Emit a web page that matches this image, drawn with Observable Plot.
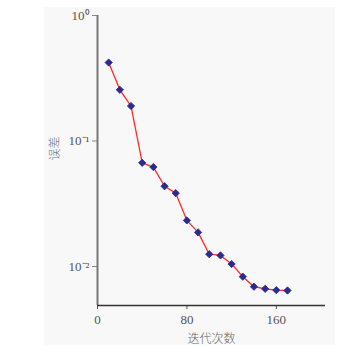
<!DOCTYPE html>
<html><head><meta charset="utf-8">
<script src="https://cdn.jsdelivr.net/npm/d3@7"></script>
<script src="https://cdn.jsdelivr.net/npm/@observablehq/plot@0.6"></script>
<style>
html,body{margin:0;padding:0;background:#fff;}
#chart{position:absolute;left:44px;top:7px;width:291px;height:338px;background:#f8f8f8;}
svg{overflow:visible;}
</style></head>
<body><div id="chart"></div>
<script>
const iterations = [10,20,30,40,50,60,70,80,90,100,110,120,130,140,150,160,170];
const errors = [0.422,0.256,0.19,0.067,0.062,0.0436,0.0384,0.0233,0.0187,0.01253,0.01225,0.01046,0.0083,0.0069,0.00664,0.00648,0.00644];
const xTicks = [0,80,160];
const yTicks = [1,0.1,0.01];
const yTickLabels = ["10\u2070","10\u207B\u00B9","10\u207B\u00B2"];
const xLabel = "迭代次数";
const yLabel = "误差";

const data = iterations.map((x,i)=>({x, y: errors[i]}));
const yMin = 0.00489;
const font = "'Liberation Serif','Noto Sans CJK SC',serif";

const chart = Plot.plot({
  width: 291, height: 338,
  marginLeft: 53, marginTop: 8, marginBottom: 40, marginRight: 10,
  style: {background: "transparent", fontFamily: font, fontSize: "13px", color: "#555"},
  x: {domain: [0, 204]},
  y: {type: "log", domain: [yMin, 1]},
  marks: [
    Plot.axisX({ticks: xTicks, tickSize: 4, tickPadding: 5, stroke: "#555", fill: "#555", label: null, fontSize: 13}),
    Plot.axisY({ticks: yTicks, tickSize: 5, tickPadding: 3, stroke: "#888", fill: "#555",
      tickFormat: d => yTickLabels[yTicks.indexOf(d)], label: null, fontSize: 13}),
    Plot.ruleX([0], {stroke: "#777", strokeWidth: 2}),
    Plot.ruleY([yMin], {stroke: "#333", strokeWidth: 1.5}),
    Plot.text([xLabel], {frameAnchor: "bottom", dy: 37, fontSize: 12, fill: "#666", fontFamily: "'Noto Sans CJK SC',sans-serif", fontWeight: 300}),
    Plot.text([yLabel], {frameAnchor: "left", dx: -42, rotate: -90, fontSize: 12, fill: "#777", fontFamily: "'Noto Sans CJK SC',sans-serif", fontWeight: 300}),
    Plot.line(data, {x: "x", y: "y", stroke: "#ff2a2a", strokeWidth: 1.3}),
    Plot.dot(data, {x: "x", y: "y", symbol: "square", rotate: 45, r: 2.9, fill: "#2b2b8f", stroke: "#2b2b8f", strokeWidth: 0.8})
  ]
});
document.getElementById("chart").appendChild(chart);
</script></body></html>
